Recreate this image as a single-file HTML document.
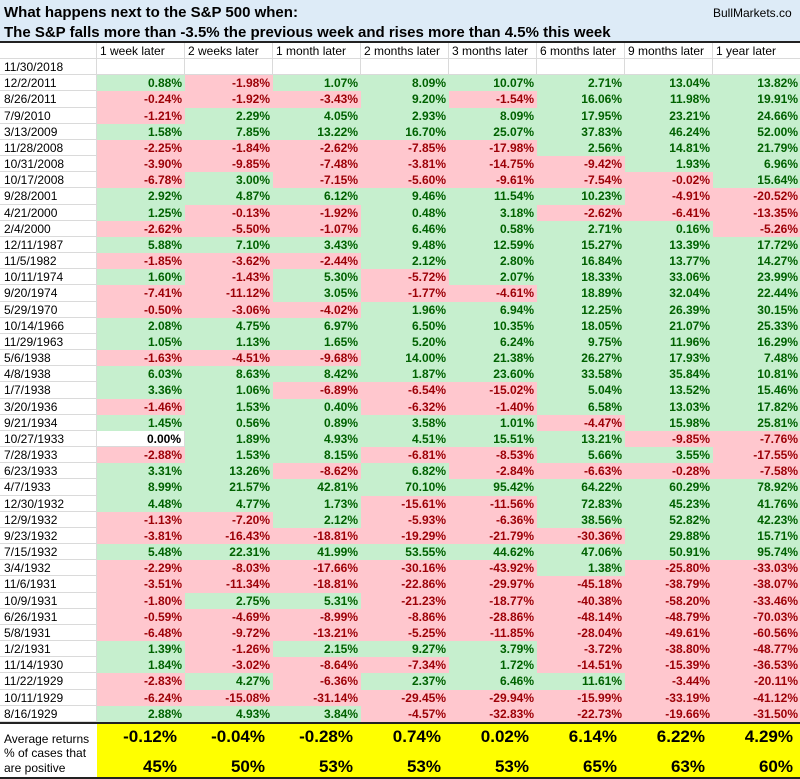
<!DOCTYPE html>
<html><head><meta charset="utf-8">
<style>
body{margin:0;width:800px;height:779px;overflow:hidden;background:#fff;font-family:"Liberation Sans",sans-serif;}
#t{position:relative;width:800px;height:779px;}
.c{position:absolute;box-sizing:border-box;font-size:12px;line-height:16px;white-space:nowrap;overflow:hidden;}
.title{position:absolute;left:0;top:0;width:800px;height:41px;background:#ddebf7;border-bottom:2px solid #222;}
</style></head><body>
<div id="t">
<div class="title">
<div style="position:absolute;left:4px;top:4px;font-size:15px;font-weight:bold;">What happens next to the S&amp;P 500 when:</div>
<div style="position:absolute;left:4px;top:24px;font-size:15px;font-weight:bold;">The S&amp;P falls more than -3.5% the previous week and rises more than 4.5% this week</div>
<div style="position:absolute;left:713px;top:6px;font-size:12px;">BullMarkets.co</div>
</div>
</div>
<script>
const headers=["1 week later","2 weeks later","1 month later","2 months later","3 months later","6 months later","9 months later","1 year later"];
const dates=["11/30/2018","12/2/2011","8/26/2011","7/9/2010","3/13/2009","11/28/2008","10/31/2008","10/17/2008","9/28/2001","4/21/2000","2/4/2000","12/11/1987","11/5/1982","10/11/1974","9/20/1974","5/29/1970","10/14/1966","11/29/1963","5/6/1938","4/8/1938","1/7/1938","3/20/1936","9/21/1934","10/27/1933","7/28/1933","6/23/1933","4/7/1933","12/30/1932","12/9/1932","9/23/1932","7/15/1932","3/4/1932","11/6/1931","10/9/1931","6/26/1931","5/8/1931","1/2/1931","11/14/1930","11/22/1929","10/11/1929","8/16/1929"];
const values=[null,
[0.88,-1.98,1.07,8.09,10.07,2.71,13.04,13.82],
[-0.24,-1.92,-3.43,9.20,-1.54,16.06,11.98,19.91],
[-1.21,2.29,4.05,2.93,8.09,17.95,23.21,24.66],
[1.58,7.85,13.22,16.70,25.07,37.83,46.24,52.00],
[-2.25,-1.84,-2.62,-7.85,-17.98,2.56,14.81,21.79],
[-3.90,-9.85,-7.48,-3.81,-14.75,-9.42,1.93,6.96],
[-6.78,3.00,-7.15,-5.60,-9.61,-7.54,-0.02,15.64],
[2.92,4.87,6.12,9.46,11.54,10.23,-4.91,-20.52],
[1.25,-0.13,-1.92,0.48,3.18,-2.62,-6.41,-13.35],
[-2.62,-5.50,-1.07,6.46,0.58,2.71,0.16,-5.26],
[5.88,7.10,3.43,9.48,12.59,15.27,13.39,17.72],
[-1.85,-3.62,-2.44,2.12,2.80,16.84,13.77,14.27],
[1.60,-1.43,5.30,-5.72,2.07,18.33,33.06,23.99],
[-7.41,-11.12,3.05,-1.77,-4.61,18.89,32.04,22.44],
[-0.50,-3.06,-4.02,1.96,6.94,12.25,26.39,30.15],
[2.08,4.75,6.97,6.50,10.35,18.05,21.07,25.33],
[1.05,1.13,1.65,5.20,6.24,9.75,11.96,16.29],
[-1.63,-4.51,-9.68,14.00,21.38,26.27,17.93,7.48],
[6.03,8.63,8.42,1.87,23.60,33.58,35.84,10.81],
[3.36,1.06,-6.89,-6.54,-15.02,5.04,13.52,15.46],
[-1.46,1.53,0.40,-6.32,-1.40,6.58,13.03,17.82],
[1.45,0.56,0.89,3.58,1.01,-4.47,15.98,25.81],
[0.00,1.89,4.93,4.51,15.51,13.21,-9.85,-7.76],
[-2.88,1.53,8.15,-6.81,-8.53,5.66,3.55,-17.55],
[3.31,13.26,-8.62,6.82,-2.84,-6.63,-0.28,-7.58],
[8.99,21.57,42.81,70.10,95.42,64.22,60.29,78.92],
[4.48,4.77,1.73,-15.61,-11.56,72.83,45.23,41.76],
[-1.13,-7.20,2.12,-5.93,-6.36,38.56,52.82,42.23],
[-3.81,-16.43,-18.81,-19.29,-21.79,-30.36,29.88,15.71],
[5.48,22.31,41.99,53.55,44.62,47.06,50.91,95.74],
[-2.29,-8.03,-17.66,-30.16,-43.92,1.38,-25.80,-33.03],
[-3.51,-11.34,-18.81,-22.86,-29.97,-45.18,-38.79,-38.07],
[-1.80,2.75,5.31,-21.23,-18.77,-40.38,-58.20,-33.46],
[-0.59,-4.69,-8.99,-8.86,-28.86,-48.14,-48.79,-70.03],
[-6.48,-9.72,-13.21,-5.25,-11.85,-28.04,-49.61,-60.56],
[1.39,-1.26,2.15,9.27,3.79,-3.72,-38.80,-48.77],
[1.84,-3.02,-8.64,-7.34,1.72,-14.51,-15.39,-36.53],
[-2.83,4.27,-6.36,2.37,6.46,11.61,-3.44,-20.11],
[-6.24,-15.08,-31.14,-29.45,-29.94,-15.99,-33.19,-41.12],
[2.88,4.93,3.84,-4.57,-32.83,-22.73,-19.66,-31.50]];
const averages=[-0.12,-0.04,-0.28,0.74,0.02,6.14,6.22,4.29];
const positives=[45,50,53,53,53,65,63,60];

const T=document.getElementById('t');
const colX=i=>97+i*88;
const rowY=r=>59+r*16.17;
function cell(x,y,w,h,txt,css){const d=document.createElement('div');d.className='c';d.style.cssText=`left:${x}px;top:${y}px;width:${w}px;height:${h}px;`+(css||'');d.textContent=txt;T.appendChild(d);return d;}
const grid='border-right:1px solid #dadada;border-bottom:1px solid #dadada;';
let e=cell(0,43,97,16,'',grid);


headers.forEach((h,i)=>{const d=cell(colX(i),43,88,16,h,grid+'padding-left:3px;');

});
dates.forEach((dt,r)=>{const y=Math.round(rowY(r)),h=Math.round(rowY(r+1))-y;
const d=cell(0,y,97,h,dt,grid+'padding-left:4px;');


for(let i=0;i<8;i++){const v=values[r]?values[r][i]:null;
let css='text-align:right;padding-right:3px;font-weight:bold;';
if(v===null){css+=grid;}else if(v>0)css+='background:#c6efce;color:#006100;';else if(v<0)css+='background:#ffc7ce;color:#9c0006;';else css+=grid+'color:#000;';
const c=cell(colX(i),y,88,h,v===null?'':v.toFixed(2)+'%',css);

}});
const ln=document.createElement('div');ln.style.cssText='position:absolute;left:0;top:722px;width:800px;height:2px;background:#222;';T.appendChild(ln);


let a=cell(0,724,97,29,'Average returns','padding:8px 0 0 4px;line-height:14px;');


let p=cell(0,753,97,24,'% of cases that\nare positive','padding-left:4px;line-height:15px;white-space:pre;top:746px;height:31px;');


averages.forEach((v,i)=>{const c=cell(colX(i),724,88,53,'',`background:#ffff00;`);


const t1=document.createElement('div');t1.style.cssText='position:absolute;right:8px;top:3px;font-size:17px;font-weight:bold;line-height:20px;';t1.textContent=v.toFixed(2)+'%';c.appendChild(t1);


const t2=document.createElement('div');t2.style.cssText='position:absolute;right:8px;top:33px;font-size:17px;font-weight:bold;line-height:20px;';t2.textContent=positives[i]+'%';c.appendChild(t2);

});
const bl=document.createElement('div');bl.style.cssText='position:absolute;left:0;top:777px;width:800px;height:2px;background:#222;';T.appendChild(bl);


</script>
</body></html>
